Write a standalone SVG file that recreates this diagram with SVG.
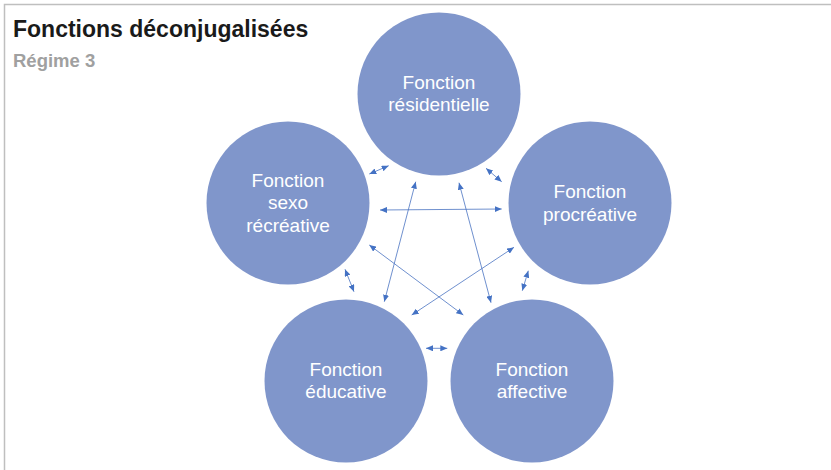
<svg xmlns="http://www.w3.org/2000/svg" width="831" height="470" viewBox="0 0 831 470">
<style>
.node circle{fill:#8096CB;}
.node text{fill:#FFFFFF;font-family:"Liberation Sans",Arial,sans-serif;font-size:19px;text-anchor:middle;}
.conn line{stroke:#4A73C2;stroke-width:0.8;fill:none;marker-start:url(#ah);marker-end:url(#ah);}
.title{font-family:"Liberation Sans",Arial,sans-serif;font-weight:bold;}
</style>
<defs>
<marker id="ah" viewBox="0 0 7 6" refX="7" refY="3" markerWidth="7" markerHeight="6" markerUnits="userSpaceOnUse" orient="auto-start-reverse">
<path d="M0,0 L7,3 L0,6 z" fill="#4472C4"/>
</marker>
</defs>
<rect x="0" y="0" width="831" height="470" fill="#FFFFFF"/>
<path d="M4.5,470 V4.5 H831" fill="none" stroke="#BFBFBF" stroke-width="1.5"/>
<text class="title" x="13" y="37" font-size="23" fill="#1A1A1A">Fonctions déconjugalisées</text>
<text class="title" x="13" y="67" font-size="18.5" fill="#A0A0A0">Régime 3</text>
<g id="n-residentielle" class="node">
<circle cx="439" cy="94" r="81.5"/>
<text x="439" y="89">Fonction</text>
<text x="439" y="111">résidentielle</text>
</g>
<g id="n-procreative" class="node">
<circle cx="590" cy="203" r="81.5"/>
<text x="590" y="198">Fonction</text>
<text x="590" y="221">procréative</text>
</g>
<g id="n-sexo" class="node">
<circle cx="288" cy="203" r="81.5"/>
<text x="288" y="187">Fonction</text>
<text x="288" y="209">sexo</text>
<text x="288" y="232">récréative</text>
</g>
<g id="n-educative" class="node">
<circle cx="346" cy="381" r="81.5"/>
<text x="346" y="376">Fonction</text>
<text x="346" y="398">éducative</text>
</g>
<g id="n-affective" class="node">
<circle cx="532" cy="381" r="81.5"/>
<text x="532" y="376">Fonction</text>
<text x="532" y="398">affective</text>
</g>
<g id="connectors" class="conn">
<line x1="369.3" y1="174" x2="388.7" y2="165.7"/>
<line x1="486" y1="168.3" x2="501.7" y2="181.7"/>
<line x1="345" y1="269.3" x2="354" y2="291.7"/>
<line x1="528.3" y1="270.7" x2="522.3" y2="290.7"/>
<line x1="426" y1="348.3" x2="447.3" y2="348.3"/>
<line x1="380" y1="210" x2="501.7" y2="209"/>
<line x1="415.7" y1="181.7" x2="384.3" y2="301.7"/>
<line x1="459" y1="182.7" x2="491" y2="302.7"/>
<line x1="369.3" y1="245" x2="463.3" y2="315"/>
<line x1="514" y1="247.3" x2="411.7" y2="315"/>
</g>
</svg>
